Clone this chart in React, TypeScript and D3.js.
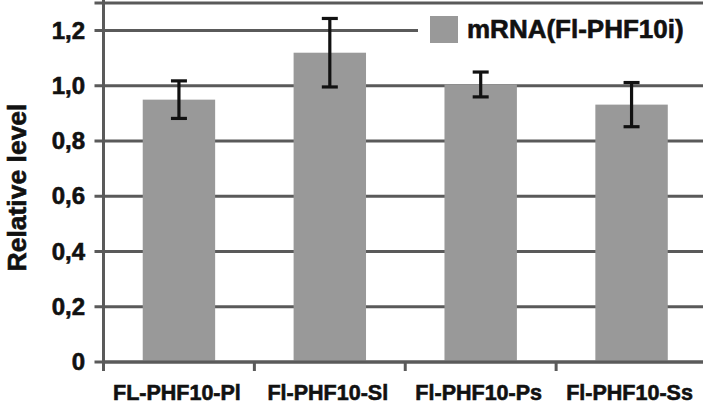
import { useEffect, useRef } from 'react'
import * as d3 from 'd3';

// Data
const categories = ['FL-PHF10-Pl', 'Fl-PHF10-Sl', 'Fl-PHF10-Ps', 'Fl-PHF10-Ss'];
const values = [0.95, 1.12, 1.005, 0.932];
const errors = [0.068, 0.124, 0.045, 0.08];
const tickValues = [0, 0.2, 0.4, 0.6, 0.8, 1.0, 1.2];
const tickLabels = ['0', '0,2', '0,4', '0,6', '0,8', '1,0', '1,2'];
const seriesName = 'mRNA(Fl-PHF10i)';

const App = () => {
  const canvas = useRef<SVGSVGElement>(null);

  useEffect(() => {
    const svg = d3.select(canvas.current);
    svg.selectAll('*').remove();

    const width = 703, height = 406;
    const left = 103.5, right = 707, top = 3, bottom = 362;
    const font = 'Liberation Sans, Arial, sans-serif';
    const lineColor = '#5a5a5a';
    const ink = '#111';

    const x = d3.scaleBand()
      .domain(categories)
      .range([left, right])
      .paddingInner(0.52)
      .paddingOuter(0.26);

    const band = d3.scaleBand().domain(categories).range([left, right]);

    const y = d3.scaleLinear().domain([0, 1.3]).range([bottom, top]);

    svg.attr('width', width).attr('height', height).attr('viewBox', `0 0 ${width} ${height}`);

    // Gridlines (incl. the top one at 1.3)
    const grid = [...tickValues, 1.3];
    svg.append('g')
      .selectAll('line')
      .data(grid)
      .join('line')
      .attr('x1', left - 9)
      .attr('x2', width)
      .attr('y1', (d) => y(d))
      .attr('y2', (d) => y(d))
      .attr('stroke', lineColor)
      .attr('stroke-width', 3);

    // Bars
    svg.append('g')
      .selectAll('rect')
      .data(values)
      .join('rect')
      .attr('x', (d, i) => x(categories[i])!)
      .attr('width', x.bandwidth())
      .attr('y', (d) => y(d))
      .attr('height', (d) => y(0) - y(d))
      .attr('fill', '#999999');

    // Error bars
    const eb = svg.append('g').attr('stroke', ink).attr('stroke-width', 3.2);
    values.forEach((v, i) => {
      const cx = x(categories[i])! + x.bandwidth() / 2;
      const hi = y(v + errors[i]), lo = y(v - errors[i]);
      eb.append('line').attr('x1', cx).attr('x2', cx).attr('y1', hi).attr('y2', lo);
      eb.append('line').attr('x1', cx - 8).attr('x2', cx + 8).attr('y1', hi).attr('y2', hi);
      eb.append('line').attr('x1', cx - 8).attr('x2', cx + 8).attr('y1', lo).attr('y2', lo);
    });

    // Y axis line
    svg.append('line')
      .attr('x1', left).attr('x2', left)
      .attr('y1', 0).attr('y2', bottom + 9)
      .attr('stroke', lineColor).attr('stroke-width', 3);

    // X axis line and ticks
    svg.append('line')
      .attr('x1', left).attr('x2', width)
      .attr('y1', bottom).attr('y2', bottom)
      .attr('stroke', lineColor).attr('stroke-width', 3);
    svg.append('g')
      .selectAll('line')
      .data(categories)
      .join('line')
      .attr('x1', (d) => band(d)! + band.bandwidth())
      .attr('x2', (d) => band(d)! + band.bandwidth())
      .attr('y1', bottom)
      .attr('y2', bottom + 9)
      .attr('stroke', lineColor)
      .attr('stroke-width', 3);

    const boldText = (sel: any, size: number) => sel
      .attr('font-family', font)
      .attr('font-weight', 'bold')
      .attr('font-size', size)
      .attr('fill', ink)
      .attr('stroke', ink)
      .attr('stroke-width', 0.6);

    // Y tick labels
    svg.append('g')
      .selectAll('text')
      .data(tickValues)
      .join('text')
      .attr('x', 85)
      .attr('y', (d) => y(d) + 8)
      .attr('text-anchor', 'end')
      .call(boldText, 24)
      .text((d, i) => tickLabels[i]);

    // X tick labels
    svg.append('g')
      .selectAll('text')
      .data(categories)
      .join('text')
      .attr('x', (d) => band(d)! + band.bandwidth() / 2 - 2)
      .attr('y', 400)
      .attr('text-anchor', 'middle')
      .call(boldText, 21.5)
      .text((d) => d);

    // Y axis title
    svg.append('text')
      .attr('transform', `translate(26, ${(top + bottom) / 2 + 5}) rotate(-90)`)
      .attr('text-anchor', 'middle')
      .call(boldText, 26.5)
      .text('Relative level');

    // Legend
    const lg = svg.append('g');
    lg.append('rect')
      .attr('x', 418).attr('y', 7)
      .attr('width', width - 418).attr('height', 46)
      .attr('fill', '#fff');
    lg.append('rect')
      .attr('x', 430).attr('y', 16)
      .attr('width', 28).attr('height', 27)
      .attr('fill', '#999999');
    lg.append('text')
      .attr('x', 467).attr('y', 38)
      .call(boldText, 26)
      .text(seriesName);
  }, []);

  return (
    <div style={{ position: 'absolute', left: 0, top: 0, background: '#fff' }}>
      <svg ref={canvas}></svg>
    </div>
  );
}

export default App;
